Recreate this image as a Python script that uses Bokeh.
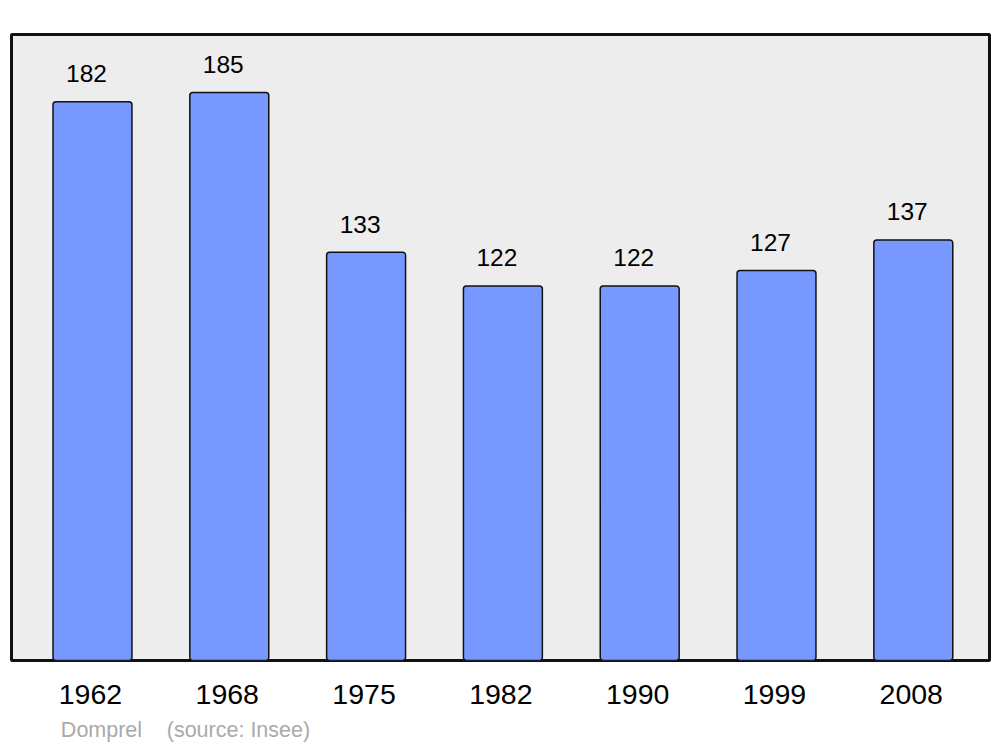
from bokeh.plotting import figure
from bokeh.models import ColumnDataSource, FixedTicker, LinearAxis
from bokeh.core.properties import value
from bokeh.embed import file_html
from bokeh.resources import INLINE

years = ["1962", "1968", "1975", "1982", "1990", "1999", "2008"]
population = [182, 185, 133, 122, 122, 127, 137]
commune = "Domprel"
source_text = "(source: Insee)"

xs = list(range(len(years)))
src = ColumnDataSource(dict(x=xs, top=population, lbl=[str(v) for v in population]))

FONT = "Liberation Sans"

p = figure(width=1000, height=747, frame_width=978, frame_height=626,
           min_border_left=11, min_border_right=11, min_border_top=34, min_border_bottom=87,
           x_range=(-0.592, 6.557), y_range=(0, 203.9),
           output_backend="svg", toolbar_location=None, tools="")
p.background_fill_color = "#ededed"
p.border_fill_color = "white"
p.outline_line_color = "#111111"
p.outline_line_width = 3
p.grid.visible = False
p.yaxis.visible = False

p.vbar(x="x", top="top", bottom=0, width=0.577, source=src,
       fill_color="#7799ff", line_color="#111111", line_width=1.5, border_radius=3)

p.text(x="x", y="top", text="lbl", source=src, x_offset=-6, y_offset=-28,
       text_align="center", text_baseline="alphabetic",
       text_font=value(FONT), text_font_size="24.5px", text_color="black")

ax = p.xaxis[0]
ax.ticker = FixedTicker(ticks=[i - 0.015 for i in xs])
ax.major_label_overrides = {i - 0.015: y for i, y in zip(xs, years)}
ax.axis_line_color = None
ax.major_tick_line_color = None
ax.minor_tick_line_color = None
ax.major_tick_out = 0
ax.major_label_standoff = 24
ax.major_label_text_font = FONT
ax.major_label_text_font_size = "28.5px"
ax.major_label_text_color = "black"

src_ticks = [0.0658, 1.067]
ax2 = LinearAxis(ticker=FixedTicker(ticks=src_ticks),
                 major_label_overrides={src_ticks[0]: commune, src_ticks[1]: source_text},
                 axis_line_color=None, major_tick_line_color=None, minor_tick_line_color=None,
                 major_tick_out=0, major_tick_in=0, major_label_standoff=11,
                 major_label_text_font=FONT, major_label_text_font_size="21.5px",
                 major_label_text_color="#aaaaaa")
p.add_layout(ax2, "below")

open("out.html", "w").write(file_html(p, INLINE))
